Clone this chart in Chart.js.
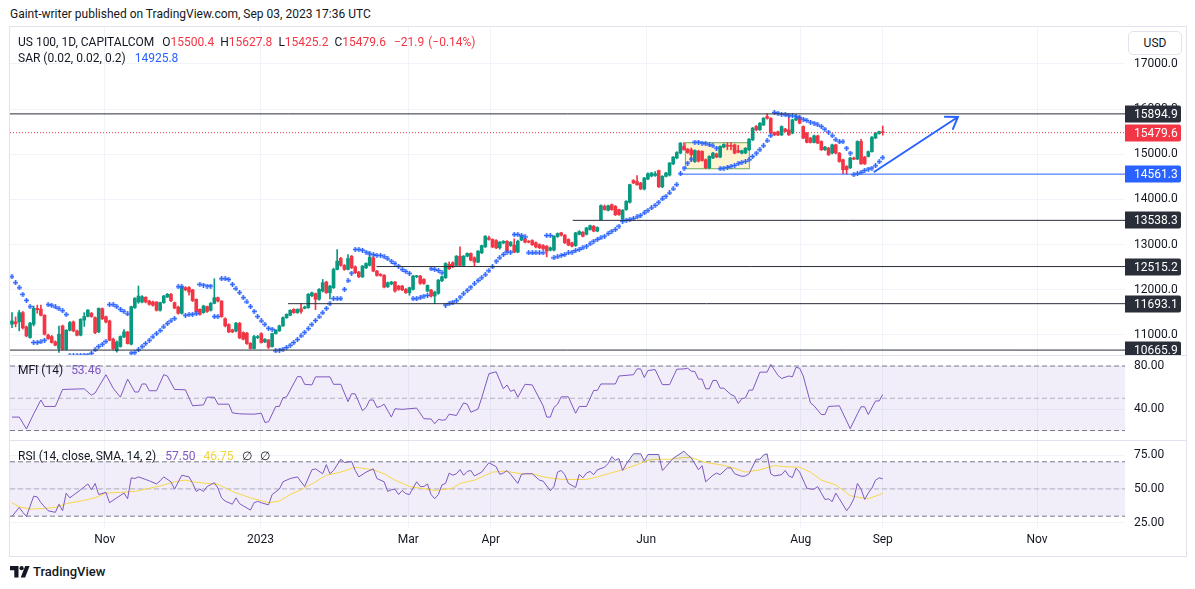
<!DOCTYPE html>
<html>
<head>
<meta charset="utf-8">
<title>US 100, 1D, CAPITALCOM</title>
<script src="https://cdn.jsdelivr.net/npm/chart.js@4.4.1/dist/chart.umd.min.js"></script>
<style>
  html, body { margin: 0; padding: 0; background: #fff; }
  body { position: relative; width: 1195px; height: 589px; overflow: hidden;
         font-family: Roboto, "Noto Sans", sans-serif; color: #131722; }
  .abs { position: absolute; }
  #frame { left: 9px; top: 26px; width: 1176px; height: 529px; border: 1px solid #e0e3eb; }
  .sep { left: 10px; width: 1176px; height: 1px; background: #e0e3eb; }
  .pane { left: 10px; width: 1176px; }
  .legend { font-size: 12px; line-height: 16px; white-space: nowrap; z-index: 2; }
  .legend span { margin-left: 6px; }
  .legend span.v { margin-left: 0; }
  .red { color: #f23645; }
  .blue { color: #2962ff; }
  .purple { color: #7e57c2; }
  .yellow { color: #f5d33c; }
  #usd { left: 1128px; top: 31px; width: 52px; height: 22px; border: 1px solid #e0e3eb; border-radius: 5px;
         font-size: 12px; line-height: 22px; text-align: center; z-index: 2; background: #fff; }
</style>
</head>
<body>
<div class="abs" style="left:10px;top:6px;font-size:12px;line-height:16px;white-space:nowrap">Gaint-writer published on TradingView.com, Sep 03, 2023 17:36 UTC</div>
<div id="frame" class="abs"></div>
<div class="abs pane" style="top:27px;height:328px"><canvas id="cMain" width="1176" height="328"></canvas></div>
<div class="abs sep" style="top:355px"></div>
<div class="abs pane" style="top:356px;height:84px"><canvas id="cMfi" width="1176" height="84"></canvas></div>
<div class="abs sep" style="top:440px"></div>
<div class="abs pane" style="top:441px;height:115px"><canvas id="cRsi" width="1176" height="115"></canvas></div>

<div id="usd" class="abs">USD</div>
<div id="leg1" class="abs legend" style="left:18px;top:34px"></div>
<div id="leg2" class="abs legend" style="left:18px;top:50px"></div>
<div id="leg3" class="abs legend" style="left:18px;top:362px"></div>
<div id="leg4" class="abs legend" style="left:18px;top:448px"></div>

<div class="abs" style="left:10px;top:565px;height:14px;display:flex;align-items:center">
  <svg width="20" height="12" viewBox="0 0 20 12">
    <path d="M0 0H8.5V11.5H4.3V4.2H0Z" fill="#131722"/>
    <circle cx="11.6" cy="2.2" r="2.1" fill="#131722"/>
    <path d="M15.2 0H19.6L15.1 11.5H10.7Z" fill="#131722"/>
  </svg>
  <span style="margin-left:3px;font-size:13px;font-weight:500;line-height:14px">TradingView</span>
</div>

<script>
// daily bars, index 0 = 26 Sep 2022, last = 1 Sep 2023
const open = [
  11237,11290,11290,11495,11180,10943,11237,11590,11569,11436,
  10995,10965,10847,10700,11201,10685,11105,11290,11090,10995,
  11330,11410,11480,11384,11070,11583,11406,11311,10906,10650,
  10744,10957,11068,10796,11606,11730,11730,11833,11752,11730,
  11730,11547,11716,11840,11900,11716,11620,11480,12050,12050,
  12000,11790,11569,11495,11630,11547,11700,11826,11752,11362,
  11230,11112,11090,11260,11053,11040,10818,10700,10940,11030,
  10847,10891,10744,11030,11090,11201,11380,11436,11569,11495,
  11580,11590,11605,11870,11915,11790,11973,12172,11936,12046,
  12451,12694,12540,12451,12745,12510,12392,12290,12488,12540,
  12710,12415,12340,12320,12068,12130,12172,12083,12083,12010,
  11936,12010,12290,12304,12230,11973,11995,11863,11922,12200,
  12270,12562,12600,12540,12745,12540,12745,12805,12710,12613,
  12820,12950,13150,13115,13090,12930,13040,13075,12980,12990,
  12834,13100,13130,13077,13090,13040,13000,12980,12965,12880,
  12880,13180,13261,13210,13114,13040,12980,13230,13275,13230,
  13335,13408,13300,13555,13850,13760,13885,13850,13776,13570,
  13776,13940,14420,14400,14365,14233,14453,14520,14530,14640,
  14280,14512,14540,14790,14920,15030,15175,15115,15101,14840,
  15070,15065,14880,14700,14920,15010,14940,15160,15200,15195,
  15210,15085,15027,15030,15100,15320,15616,15543,15650,15837,
  15800,15480,15500,15430,15560,15543,15469,15760,15800,15616,
  15469,15360,15263,15410,15285,15101,15140,15027,15210,15027,
  14880,14733,14700,14920,14895,15285,14940,14954,15060,15360,
  15460,15500.4
];
const high = [
  11495,11400,11545,11520,11200,11280,11640,11660,11660,11450,
  11020,10990,10870,11200,11220,11120,11300,11310,11110,11360,
  11495,11560,11500,11400,11600,11600,11420,11330,10930,10870,
  10980,11120,11080,11640,11830,12084,11870,11850,11770,11750,
  11740,11730,11880,11920,11920,11730,11640,12080,12070,12070,
  12010,11800,11580,11660,11640,11720,12245,11840,11760,11380,
  11250,11130,11280,11280,11070,11060,10830,10990,10990,11050,
  10920,10900,11040,11120,11220,11400,11470,11560,11580,11580,
  11700,11640,11920,11950,11930,12030,12230,12190,12100,12480,
  12893,12720,12560,12780,12760,12530,12410,12540,12600,12820,
  12730,12430,12360,12340,12175,12190,12190,12100,12100,12030,
  12060,12320,12320,12320,12250,12110,12010,11970,12230,12310,
  12600,12620,12620,12760,12950,12760,12820,12820,12730,12870,
  12990,13200,13190,13130,13110,13070,13090,13090,13070,13130,
  13100,13200,13150,13090,13110,13060,13020,13000,12980,12950,
  13200,13260,13275,13225,13130,13055,13275,13310,13290,13385,
  13435,13425,13395,13880,13880,13875,13900,13865,13790,13780,
  13975,14340,14440,14530,14380,14490,14590,14600,14620,14650,
  14530,14600,14820,14950,15060,15260,15260,15130,15140,15100,
  15090,15080,14900,14970,15045,15025,15190,15235,15260,15260,
  15230,15200,15095,15150,15350,15595,15640,15705,15815,15895,
  15810,15495,15515,15630,15575,15850,15780,15880,15850,15630,
  15485,15375,15425,15425,15300,15175,15155,15225,15225,15040,
  14895,14750,14935,14940,15300,15330,14955,15075,15395,15485,
  15515,15627.8
];
const low = [
  11164,11180,11090,11130,10960,10930,11200,11480,11420,11000,
  10900,10820,10760,10612,10670,10670,11090,11070,10980,10980,
  11190,11400,11390,11030,11050,11340,11270,10870,10680,10620,
  10730,10940,10800,10780,11590,11700,11710,11710,11660,11640,
  11530,11530,11700,11830,11740,11580,11460,11460,11980,11880,
  11740,11490,11440,11480,11500,11530,11690,11730,11390,11180,
  11050,11050,11070,10920,10890,10790,10690,10690,10920,10820,
  10830,10700,10730,11020,11080,11190,11370,11430,11480,11480,
  11480,11580,11590,11850,11560,11770,11950,11920,11800,12030,
  12440,12520,12430,12440,12470,12360,12270,12270,12470,12530,
  12400,12300,12300,12040,12050,12110,11950,11990,11980,11920,
  11880,11990,12270,12120,12120,11950,11840,11693,11900,12180,
  12250,12450,12490,12530,12530,12530,12730,12640,12520,12600,
  12800,12940,13100,12930,12910,12900,13020,12840,12960,12820,
  12820,13090,13040,13040,12980,12930,12910,12890,12730,12860,
  12860,13160,13190,13025,12975,12950,12960,13215,13170,13215,
  13320,13285,13285,13540,13760,13745,13760,13645,13650,13533,
  13760,13920,14350,14310,14220,14210,14440,14500,14510,14265,
  14260,14500,14520,14770,14900,15010,15090,15020,14840,14820,
  14830,14850,14680,14680,14905,14925,14925,15145,15100,15100,
  15010,15030,15010,15015,15085,15305,15520,15530,15635,15780,
  15450,15415,15415,15415,15495,15420,15455,15745,15675,15345,
  15250,15250,15250,15235,15085,15085,14975,15010,15010,14825,
  14570,14561,14685,14880,14880,14775,14775,14940,15045,15345,
  15445,15425.2
];
const close = [
  11311,11250,11495,11157,10980,11260,11590,11560,11436,11017,
  10921,10833,10774,11017,10685,11105,11274,11090,10995,11348,
  11410,11550,11410,11053,11590,11362,11289,10884,10700,10847,
  10965,11068,10810,11627,11811,11863,11848,11730,11679,11657,
  11547,11716,11863,11900,11760,11598,11480,12062,12000,11950,
  11760,11510,11458,11642,11520,11700,11826,11752,11406,11201,
  11068,11068,11260,10935,10906,10810,10700,10965,10965,10833,
  10906,10730,11030,11105,11201,11384,11458,11546,11495,11569,
  11520,11620,11900,11935,11790,12010,12157,11936,12083,12451,
  12635,12540,12451,12694,12488,12378,12290,12525,12584,12724,
  12415,12320,12320,12061,12157,12172,11973,12010,12000,11936,
  12046,12304,12304,12142,12142,12098,11863,11950,12216,12290,
  12584,12466,12510,12745,12540,12745,12805,12657,12613,12856,
  12980,13187,13115,12950,12930,13055,13075,12856,13055,12834,
  13077,13180,13055,13055,13000,12950,12930,12907,12856,12930,
  13187,13246,13210,13040,12990,12967,13261,13290,13187,13370,
  13420,13300,13380,13865,13776,13860,13776,13660,13666,13760,
  13960,14328,14365,14328,14233,14475,14570,14586,14570,14280,
  14512,14586,14807,14940,15040,15248,15101,15040,14990,15085,
  14850,14865,14700,14954,15027,14940,15175,15220,15180,15175,
  15027,15045,15080,15135,15335,15580,15543,15690,15800,15800,
  15469,15430,15430,15616,15508,15430,15763,15800,15690,15360,
  15263,15263,15410,15248,15101,15160,14990,15210,15027,14840,
  14660,14660,14920,14895,15285,14790,14790,15060,15380,15469,
  15501.5,15479.6
];
// parabolic SAR (0.02, 0.02, 0.2), one dot per bar
const sar = [
  12290,12157,12047,11900,11767,11627,10833,10833,10847,10884,
  11672,11657,11620,11583,11539,11451,10540,10542,10545,10548,
  10552,10555,10597,10671,10744,10796,10855,11672,11672,11627,
  11569,11524,11465,10600,10612,10671,10744,10811,10884,10958,
  11031,11098,11178,11252,11311,11362,12069,12069,11436,11451,
  11458,11473,12121,12106,12084,12084,11407,11407,12246,12246,
  12231,12121,12025,11937,11826,11731,11627,11524,11407,11311,
  11237,11149,11127,10649,10663,10685,10722,10774,10833,10900,
  10980,11060,11140,11230,11320,11400,11490,11590,11693,11804,
  11804,11804,12010,12200,12370,12893,12893,12878,12834,12797,
  12782,12760,12760,12731,12687,12635,12584,12525,12451,12407,
  12363,11804,11804,11826,11862,11877,12466,12451,12429,12378,
  11664,11693,11730,11759,11840,11914,11988,12061,12135,12208,
  12267,12333,12422,12510,12635,12709,12782,12834,12834,13224,
  13224,13202,13172,12819,12819,12819,12819,12819,13202,13202,
  12709,12731,12760,12783,12819,12834,12871,12893,12930,12967,
  13018,13077,13114,13151,13187,13246,13298,13335,13408,13519,
  13541,13555,13578,13614,13651,13703,13754,13813,13872,13938,
  14012,14071,14144,14233,14328,14571,14696,14807,14895,15270,
  15270,15248,15233,15211,15189,15138,14681,14696,14711,14733,
  14755,14792,14821,14843,14880,14954,15027,15101,15189,15300,
  15410,15925,15911,15889,15874,15859,15852,15837,15815,15778,
  15749,15712,15690,15653,15616,15557,15491,15410,15322,15278,
  15278,15138,15027,14549,14571,14601,14645,14674,14696,14748,
  14836,14925.8
];
// MFI (14): [bar index, value] at the turning points of the line
const mfiPts = [
  [0,32.5],[2,32.5],[4,21.5],[6,35.5],[8,48.4],[9,42.4],[12,42.4],[14,58.2],[20,58.8],[22,52.8],
  [23,54.9],[26,71.9],[28,59.4],[30,51.0],[32,67.8],[34,55.8],[35,55.8],[36,63.3],[37,63.3],[38,57.0],
  [40,57.0],[42,71.9],[43,70.7],[45,58.2],[48,57.9],[50,43.0],[53,43.9],[54,51.0],[56,51.0],[57,44.5],
  [60,44.5],[61,36.4],[63,35.5],[67,35.2],[69,36.1],[70,27.5],[71,28.1],[73,42.4],[74,42.4],[75,50.4],
  [76,51.3],[79,70.1],[80,70.1],[81,63.0],[83,62.4],[84,69.9],[88,69.9],[89,63.0],[91,63.0],[93,46.9],
  [94,54.3],[95,54.0],[97,38.5],[98,41.5],[99,48.4],[100,48.4],[101,41.5],[102,42.4],[103,44.5],[105,32.5],
  [106,40.3],[108,39.7],[112,40.9],[114,31.0],[116,30.7],[117,26.3],[118,30.4],[119,29.6],[120,30.1],[121,35.2],
  [123,34.0],[125,45.7],[126,44.5],[127,37.0],[129,40.0],[130,50.4],[132,72.8],[134,74.6],[136,58.8],[137,62.4],
  [138,56.4],[139,57.9],[140,51.0],[142,63.0],[144,62.4],[147,43.0],[148,32.5],[149,32.5],[150,41.5],[151,44.5],
  [152,51.3],[154,51.3],[156,36.1],[157,42.4],[159,42.4],[161,57.3],[162,57.3],[163,63.3],[167,63.3],[168,70.7],
  [172,71.9],[173,77.3],[174,77.3],[175,69.3],[176,75.8],[178,76.7],[180,62.7],[182,62.7],[184,77.0],[186,77.3],
  [187,77.9],[188,75.2],[189,74.9],[190,67.8],[191,67.8],[192,58.8],[193,58.8],[194,66.6],[195,66.6],[196,59.4],
  [197,59.4],[199,53.4],[200,51.9],[201,45.1],[202,49.6],[203,50.4],[204,57.6],[205,57.6],[207,74.3],[209,74.3],
  [210,81.5],[212,71.3],[213,68.4],[215,70.7],[216,69.9],[217,78.8],[218,77.9],[219,70.7],[221,45.7],[222,43.0],
  [224,34.9],[225,34.9],[226,42.4],[229,43.0],[232,21.8],[234,35.5],[235,42.1],[236,42.1],[237,34.9],[239,47.5],
  [240,47.5],[241,53.46]
];
// RSI (14) and its SMA (14): [bar index, value]
const rsiPts = [
  [0,29.8],[2,36.4],[3,32.8],[4,29.8],[6,44.7],[7,44.2],[8,39.9],[10,34.0],[12,32.8],[13,38.8],
  [14,34.0],[15,47.0],[16,43.5],[19,49.4],[21,53.7],[22,49.4],[23,54.1],[24,45.9],[26,47.5],[27,39.9],
  [29,43.5],[31,47.0],[32,42.8],[33,58.2],[34,57.7],[35,58.9],[37,57.0],[38,56.0],[40,53.7],[41,56.0],
  [42,58.9],[44,55.3],[45,49.9],[47,60.1],[49,58.9],[50,54.1],[51,48.2],[52,49.9],[53,48.2],[54,51.8],
  [56,54.6],[57,50.6],[58,43.5],[59,41.1],[61,38.8],[62,43.5],[63,39.2],[64,37.6],[66,34.5],[67,39.9],
  [68,40.9],[69,39.9],[71,38.3],[72,45.9],[74,49.9],[75,55.3],[77,57.7],[79,58.9],[81,51.8],[83,64.1],
  [84,64.8],[86,61.2],[87,67.9],[88,61.2],[89,63.6],[91,71.9],[92,69.5],[94,70.2],[95,63.6],[96,58.9],
  [98,62.4],[100,64.8],[101,57.7],[103,55.3],[104,48.2],[105,49.4],[106,49.9],[107,45.9],[108,48.9],[109,46.6],
  [110,45.9],[112,55.3],[113,51.8],[114,51.8],[115,53.7],[116,45.9],[117,42.8],[118,45.9],[119,53.0],[120,54.1],
  [121,61.7],[122,60.1],[123,61.2],[124,64.3],[125,60.1],[126,62.9],[127,63.6],[128,59.6],[130,62.4],[131,66.0],
  [132,69.3],[134,66.4],[135,60.8],[136,61.7],[137,63.6],[138,60.8],[140,54.1],[141,60.8],[142,61.2],[144,61.2],
  [146,56.5],[147,55.8],[149,48.7],[150,51.8],[151,62.4],[152,63.6],[153,60.5],[154,54.1],[156,51.1],[157,60.8],
  [158,58.2],[159,61.7],[160,62.9],[161,60.5],[162,64.1],[164,66.0],[165,68.8],[166,73.8],[167,71.2],[168,72.4],
  [169,63.6],[170,68.3],[172,75.9],[174,75.9],[175,70.7],[176,75.4],[179,75.4],[180,63.6],[181,66.4],[183,72.6],
  [186,77.8],[187,75.0],[188,73.1],[190,64.1],[191,67.2],[192,55.3],[194,60.1],[195,61.7],[196,60.5],[198,65.5],
  [199,65.5],[200,61.2],[202,59.3],[203,59.6],[204,61.2],[206,71.9],[207,71.9],[208,75.0],[209,75.9],[210,61.2],
  [211,59.6],[213,60.5],[214,63.6],[215,59.6],[216,58.4],[217,65.3],[218,62.4],[220,50.6],[221,49.9],[222,49.9],
  [223,51.8],[224,47.0],[225,42.3],[226,42.8],[227,40.7],[228,47.0],[229,42.8],[231,34.0],[232,37.6],[233,42.8],
  [234,54.1],[235,49.9],[236,42.3],[237,47.0],[238,50.6],[239,56.5],[240,58.2],[241,57.5]
];
const rsiMaPts = [
  [0,39.9],[2,36.9],[5,35.2],[9,35.7],[12,36.4],[15,39.2],[19,41.1],[23,43.5],[26,47.0],[30,47.5],
  [34,48.2],[37,49.9],[41,52.2],[45,55.3],[48,56.5],[50,55.3],[54,54.1],[57,53.4],[61,48.2],[66,43.5],
  [71,39.9],[74,41.1],[77,45.9],[80,49.4],[84,55.3],[87,60.1],[91,62.4],[95,66.0],[98,64.8],[100,64.1],
  [103,61.2],[106,56.5],[110,51.8],[113,50.6],[117,48.9],[120,49.9],[122,50.6],[124,54.1],[128,56.5],[130,58.9],
  [133,62.4],[136,63.1],[138,62.4],[141,61.2],[144,61.2],[147,58.9],[150,57.7],[152,57.2],[155,57.0],[159,57.0],
  [162,58.9],[165,61.2],[169,64.1],[173,67.9],[176,71.2],[179,71.9],[182,71.9],[186,73.1],[188,73.1],[192,69.5],
  [196,67.9],[199,66.0],[203,62.4],[207,64.1],[211,67.2],[214,66.4],[218,66.0],[221,62.4],[224,56.5],[228,53.0],
  [232,45.1],[235,43.5],[237,42.8],[239,44.7],[241,46.75]
];
// time axis: bar index of each month label
const monthIdx = [25.7, 68.8, 109.7, 132.5, 175.5, 218.3, 241, 283.7];
const monthLabels = ['Nov', '2023', 'Mar', 'Apr', 'Jun', 'Aug', 'Sep', 'Nov'];
const priceTicks = [11000, 12000, 13000, 14000, 15000, 16000, 17000];
const mfiTicks = [40, 80];
const rsiTicks = [25, 50, 75];
// drawn levels: price and the bar where each line begins
const levels = [15894.9, 14561.3, 13538.3, 12515.2, 11693.1, 10665.9];
const levelFrom = [-0.55, 184.9, 155.2, 100.9, 76.4, -0.55];
// rectangle and arrow drawings (bar index, price)
const zoneFrom = 186.4, zoneTo = 204.1, zoneTop = 15258, zoneBottom = 14682;
const arrowFrom = [238.7, 14615], arrowTo = [261.8, 15827];

const UP = '#089981', DOWN = '#f23645', BLUE = '#2962ff', DARK = '#2a2e39';
const levelColors = [DARK, BLUE, DARK, DARK, DARK, DARK];
const X_MIN = -0.55, X_MAX = 308.05;
const GRID = '#f0f3fa';
const FONT = 'Roboto';

Chart.defaults.font.family = FONT;
Chart.defaults.animation = false;

const n = close.length;
const idx = close.map((_, i) => i);
const barColor = idx.map(i => close[i] >= open[i] ? UP : DOWN);
const lastPrice = close[n - 1];

// small "+" used for the SAR dots
function plusMark() {
  const c = document.createElement('canvas');
  c.width = 5; c.height = 5;
  const g = c.getContext('2d');
  g.strokeStyle = BLUE;
  g.lineWidth = 1.6;
  g.beginPath();
  g.moveTo(0, 2.5); g.lineTo(5, 2.5);
  g.moveTo(2.5, 0); g.lineTo(2.5, 5);
  g.stroke();
  return c;
}

function xAxis(showLabels) {
  return {
    type: 'linear', min: X_MIN, max: X_MAX, offset: false,
    afterBuildTicks: s => { s.ticks = monthIdx.map(v => ({ value: v })); },
    afterFit: s => { s.height = showLabels ? 28 : 0; s.paddingLeft = 0; s.paddingRight = 0; },
    grid: { color: GRID, drawTicks: false, offset: false },
    border: { display: false },
    ticks: {
      display: showLabels, autoSkip: false, maxRotation: 0, padding: 5,
      color: '#131722', font: { size: 12 },
      callback: (v, i) => monthLabels[i]
    }
  };
}
function yAxis(min, max, ticks, digits) {
  return {
    position: 'right', min, max,
    afterBuildTicks: s => { s.ticks = ticks.map(v => ({ value: v })); },
    afterFit: s => { s.width = 61; s.paddingTop = 0; s.paddingBottom = 0; },
    grid: { color: GRID, drawTicks: false },
    border: { display: false },
    ticks: { padding: 9, color: '#131722', font: { size: 12 }, callback: v => v.toFixed(digits) }
  };
}
const baseOptions = (x, y) => ({
  responsive: false, devicePixelRatio: 1, events: [],
  layout: { padding: 0, autoPadding: false },
  plugins: { legend: { display: false }, tooltip: { enabled: false } },
  scales: { x, y }
});
const hline = (v, from, color, dash, extra) => Object.assign({
  type: 'line', data: [{ x: from, y: v }, { x: X_MAX, y: v }],
  borderColor: color, borderWidth: 1, borderDash: dash || [], pointRadius: 0, order: 0
}, extra || {});

// drawings on the price pane
const zonePlugin = {
  id: 'zone',
  beforeDatasetsDraw(chart) {
    const { ctx, scales: { x, y } } = chart;
    const l = x.getPixelForValue(zoneFrom), r = x.getPixelForValue(zoneTo);
    const t = y.getPixelForValue(zoneTop), b = y.getPixelForValue(zoneBottom);
    ctx.save();
    ctx.fillStyle = 'rgba(255, 236, 179, 0.6)';
    ctx.fillRect(l, t, r - l, b - t);
    ctx.strokeStyle = '#81b86f';
    ctx.lineWidth = 1.2;
    ctx.strokeRect(l, t, r - l, b - t);
    ctx.restore();
  }
};
const arrowPlugin = {
  id: 'arrow',
  afterDatasetsDraw(chart) {
    const { ctx, scales: { x, y } } = chart;
    const x0 = x.getPixelForValue(arrowFrom[0]), y0 = y.getPixelForValue(arrowFrom[1]);
    const x1 = x.getPixelForValue(arrowTo[0]), y1 = y.getPixelForValue(arrowTo[1]);
    const a = Math.atan2(y1 - y0, x1 - x0);
    ctx.save();
    ctx.strokeStyle = BLUE;
    ctx.lineWidth = 2;
    ctx.lineCap = 'round';
    ctx.beginPath();
    ctx.moveTo(x0, y0);
    ctx.lineTo(x1, y1);
    ctx.moveTo(x1 + 13 * Math.cos(a + Math.PI - 0.6), y1 + 13 * Math.sin(a + Math.PI - 0.6));
    ctx.lineTo(x1, y1);
    ctx.lineTo(x1 + 13 * Math.cos(a + Math.PI + 0.6), y1 + 13 * Math.sin(a + Math.PI + 0.6));
    ctx.stroke();
    ctx.restore();
  }
};
function tag(ctx, left, py, color, text) {
  ctx.fillStyle = color;
  ctx.beginPath();
  ctx.roundRect(left, py - 8.5, 56, 17, [0, 2, 2, 0]);
  ctx.fill();
  ctx.fillStyle = '#fff';
  ctx.fillText(text, left + 9, py + 0.5);
}
const tagPlugin = {
  id: 'tags',
  afterDraw(chart) {
    const { ctx, scales: { y } } = chart;
    ctx.save();
    ctx.font = '12px ' + FONT;
    ctx.textBaseline = 'middle';
    levels.forEach((v, k) => tag(ctx, y.left, Math.round(y.getPixelForValue(v)), levelColors[k], v.toFixed(1)));
    tag(ctx, y.left, Math.round(y.getPixelForValue(lastPrice)), DOWN, lastPrice.toFixed(1));
    ctx.restore();
  }
};
// the lowest RSI scale label is cut by the pane edge
const paneEdge = {
  id: 'paneEdge',
  afterDraw(chart) {
    const { ctx, chartArea, scales: { y } } = chart;
    ctx.save();
    ctx.fillStyle = '#fff';
    ctx.fillRect(y.left, chartArea.bottom, y.width, chart.height - chartArea.bottom);
    ctx.restore();
  }
};

new Chart(document.getElementById('cMain'), {
  type: 'bar',
  data: {
    datasets: [
      ...levels.map((v, k) => hline(v, levelFrom[k], levelColors[k])),
      hline(lastPrice, X_MIN, DOWN, [1, 2]),
      {
        type: 'line', data: idx.map(i => ({ x: i, y: sar[i] })), showLine: false,
        pointStyle: plusMark(), pointRadius: 3, order: 1
      },
      {
        type: 'bar', data: idx.map(i => ({ x: i, y: [open[i], close[i]] })),
        backgroundColor: barColor, barThickness: 3, minBarLength: 1, grouped: false, order: 2
      },
      {
        type: 'bar', data: idx.map(i => ({ x: i, y: [low[i], high[i]] })),
        backgroundColor: barColor, barThickness: 1, grouped: false, order: 3
      }
    ]
  },
  options: baseOptions(xAxis(false), yAxis(10557, 17819, priceTicks, 1)),
  plugins: [zonePlugin, arrowPlugin, tagPlugin]
});

const BAND_FILL = 'rgba(126, 87, 194, 0.1)';
const BAND = '#787b86', BAND_MID = 'rgba(120, 123, 134, 0.5)';

new Chart(document.getElementById('cMfi'), {
  type: 'line',
  data: {
    datasets: [
      { data: mfiPts.map(p => ({ x: p[0], y: p[1] })), borderColor: '#7e57c2', borderWidth: 1, pointRadius: 0 },
      hline(80, X_MIN, BAND, [5, 3], { fill: 3, backgroundColor: BAND_FILL }),
      hline(50, X_MIN, BAND_MID, [5, 3]),
      hline(20, X_MIN, BAND, [5, 3])
    ]
  },
  options: baseOptions(xAxis(false), yAxis(11.2, 89.3, mfiTicks, 2))
});

new Chart(document.getElementById('cRsi'), {
  type: 'line',
  data: {
    datasets: [
      {
        data: rsiPts.map(p => ({ x: p[0], y: p[1] })), borderColor: '#7e57c2', borderWidth: 1, pointRadius: 0,
        fill: { target: { value: 70 }, above: 'rgba(120, 123, 134, 0.16)', below: 'rgba(0,0,0,0)' }
      },
      { data: rsiMaPts.map(p => ({ x: p[0], y: p[1] })), borderColor: '#f7d64a', borderWidth: 1, pointRadius: 0 },
      hline(70, X_MIN, BAND, [5, 3], { fill: 4, backgroundColor: BAND_FILL }),
      hline(50, X_MIN, BAND_MID, [5, 3]),
      hline(30, X_MIN, BAND, [5, 3])
    ]
  },
  options: baseOptions(xAxis(true), yAxis(21.3, 85.3, rsiTicks, 2)),
  plugins: [paneEdge]
});

// legends
const fmt = v => (v < 0 ? '\u2212' : '') + Math.abs(v).toFixed(1);
const chg = close[n - 1] - close[n - 2];
const pct = chg / close[n - 2] * 100;
document.getElementById('leg1').innerHTML =
  'US 100, 1D, CAPITALCOM' +
  '<span style="margin-left:8px">O</span><span class="v red">' + open[n - 1].toFixed(1) + '</span>' +
  '<span>H</span><span class="v red">' + high[n - 1].toFixed(1) + '</span>' +
  '<span>L</span><span class="v red">' + low[n - 1].toFixed(1) + '</span>' +
  '<span>C</span><span class="v red">' + close[n - 1].toFixed(1) + '</span>' +
  '<span class="red" style="margin-left:8px">' + fmt(chg) + '</span>' +
  '<span class="red" style="margin-left:4px">(' + (pct < 0 ? '\u2212' : '') + Math.abs(pct).toFixed(2) + '%)</span>';
document.getElementById('leg2').innerHTML =
  'SAR (0.02, 0.02, 0.2)<span class="blue" style="margin-left:9px">' + sar[n - 1].toFixed(1) + '</span>';
document.getElementById('leg3').innerHTML =
  'MFI (14)<span class="purple" style="margin-left:8px">' + mfiPts[mfiPts.length - 1][1].toFixed(2) + '</span>';
document.getElementById('leg4').innerHTML =
  'RSI (14, close, SMA, 14, 2)<span class="purple" style="margin-left:9px">' + rsiPts[rsiPts.length - 1][1].toFixed(2) + '</span>' +
  '<span class="yellow" style="margin-left:8px">' + rsiMaPts[rsiMaPts.length - 1][1].toFixed(2) + '</span>' +
  '<span style="margin-left:8px">\u2205</span><span style="margin-left:8px">\u2205</span>';
</script>
</body>
</html>
